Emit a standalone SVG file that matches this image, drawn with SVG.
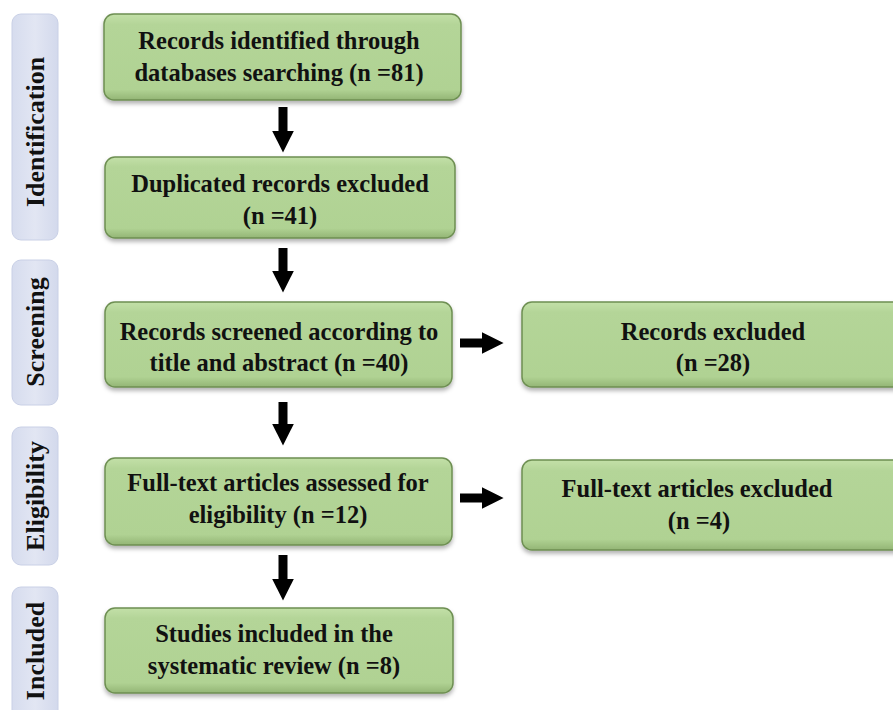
<svg xmlns="http://www.w3.org/2000/svg" width="893" height="710" viewBox="0 0 893 710">
<defs>
<linearGradient id="g" x1="0" y1="0" x2="0" y2="1">
<stop offset="0" stop-color="#c3e0a8"/>
<stop offset="0.12" stop-color="#b4d598"/>
<stop offset="0.88" stop-color="#b0d293"/>
<stop offset="1" stop-color="#93b575"/>
</linearGradient>
<linearGradient id="b" x1="0" y1="0" x2="1" y2="0">
<stop offset="0" stop-color="#d6dcee"/>
<stop offset="0.5" stop-color="#e2e6f3"/>
<stop offset="1" stop-color="#d3d9ec"/>
</linearGradient>
<filter id="sh" x="-5%" y="-10%" width="110%" height="130%">
<feDropShadow dx="0" dy="3" stdDeviation="2" flood-color="#000" flood-opacity="0.3"/>
</filter>
<marker id="ah" viewBox="0 0 10 10" refX="0" refY="5" markerWidth="2.4" markerHeight="2.4" markerUnits="strokeWidth" orient="auto">
<path d="M0,0 L10,5 L0,10 Z" fill="#000"/>
</marker>
</defs>
<style>
.box{fill:url(#g);stroke:#6e8f52;stroke-width:1.5;filter:url(#sh)}
.side{fill:url(#b);stroke:#c9d0e6;stroke-width:1}
.t{font-family:"Liberation Serif","Times New Roman",serif;font-weight:bold;font-size:24.5px;fill:#111;text-anchor:middle}
.s{font-size:26px}
.c{stroke:#000;stroke-width:9;fill:none;marker-end:url(#ah)}
</style>
<rect width="893" height="710" fill="#fff"/>

<g id="stage-identification">
<rect class="side" x="12" y="14" width="46" height="226" rx="9"/>
<text class="t s" transform="translate(44,132) rotate(-90)">Identification</text>
</g>
<g id="stage-screening">
<rect class="side" x="12" y="260" width="46" height="145" rx="9"/>
<text class="t s" transform="translate(44,332) rotate(-90)">Screening</text>
</g>
<g id="stage-eligibility">
<rect class="side" x="12" y="427" width="46" height="138" rx="9"/>
<text class="t s" transform="translate(44,496) rotate(-90)">Eligibility</text>
</g>
<g id="stage-included">
<rect class="side" x="12" y="587" width="46" height="135" rx="9"/>
<text class="t s" transform="translate(44,651) rotate(-90)">Included</text>
</g>

<g id="n1">
<rect class="box" x="104" y="14" width="357" height="86" rx="10"/>
<text class="t" x="279" y="49">Records identified through</text>
<text class="t" x="279" y="81">databases searching (n =81)</text>
</g>
<g id="n2">
<rect class="box" x="105" y="157" width="350" height="81" rx="10"/>
<text class="t" x="280" y="192">Duplicated records excluded</text>
<text class="t" x="280" y="224">(n =41)</text>
</g>
<g id="n3">
<rect class="box" x="105" y="302" width="347" height="85" rx="10"/>
<text class="t" x="279" y="340">Records screened according to</text>
<text class="t" x="279" y="371">title and abstract (n =40)</text>
</g>
<g id="n4">
<rect class="box" x="522" y="302" width="385" height="85" rx="10"/>
<text class="t" x="713" y="340">Records excluded</text>
<text class="t" x="713" y="371">(n =28)</text>
</g>
<g id="n5">
<rect class="box" x="105" y="458" width="347" height="87" rx="10"/>
<text class="t" x="278" y="491">Full-text articles assessed for</text>
<text class="t" x="278" y="523">eligibility (n =12)</text>
</g>
<g id="n6">
<rect class="box" x="522" y="460" width="385" height="90" rx="10"/>
<text class="t" x="697" y="497">Full-text articles excluded</text>
<text class="t" x="699" y="529">(n =4)</text>
</g>
<g id="n7">
<rect class="box" x="105" y="608" width="348" height="85" rx="10"/>
<text class="t" x="274" y="642">Studies included in the</text>
<text class="t" x="274" y="674">systematic review (n =8)</text>
</g>

<g id="connectors">
<line class="c" x1="283" y1="107" x2="283" y2="131"/>
<line class="c" x1="283" y1="248" x2="283" y2="271"/>
<line class="c" x1="283" y1="402" x2="283" y2="424"/>
<line class="c" x1="283" y1="555" x2="283" y2="579"/>
<line class="c" x1="460" y1="343" x2="482" y2="343"/>
<line class="c" x1="460" y1="498" x2="482" y2="498"/>
</g>
</svg>
